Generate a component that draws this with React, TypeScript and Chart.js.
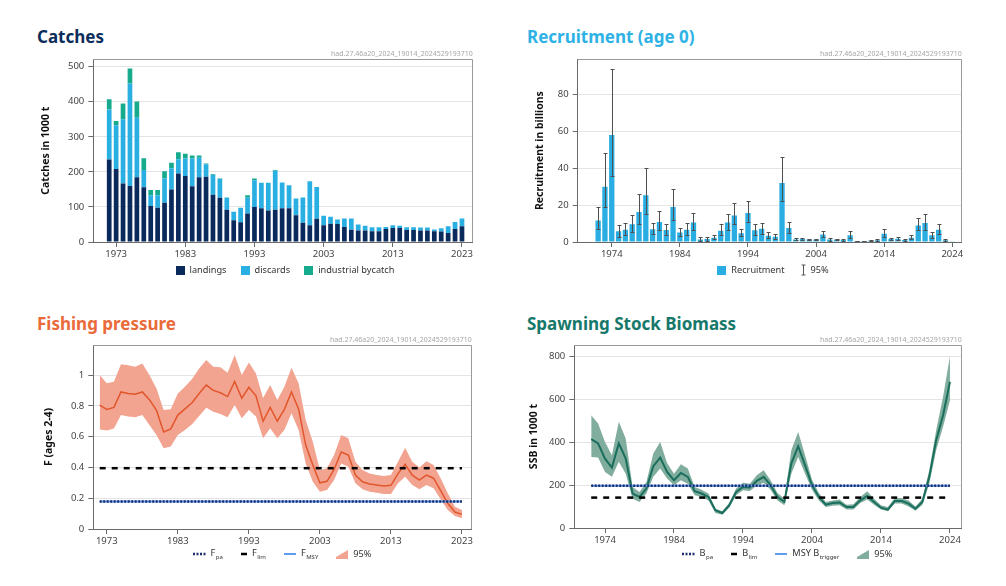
import React, { useEffect, useRef } from 'react';
import { Chart, registerables } from 'chart.js';
Chart.register(...registerables);

const FONT = "'Noto Sans', 'DejaVu Sans', sans-serif";
const WATERMARK = 'had.27.46a20_2024_19014_2024529193710';

// ---------- data ----------
const CATCH_YEARS = Array.from({ length: 52 }, (_, i) => 1972 + i);
const CATCH_TICKS = [1973, 1983, 1993, 2003, 2013, 2023];
const LANDINGS = [235, 208, 167, 160, 185, 156, 103, 98, 112, 150, 195, 188, 159, 185, 186, 135, 126, 92, 62, 56, 81, 100, 96, 90, 92, 96, 96, 76, 55, 48, 66, 48, 52, 51, 43, 35, 33, 33, 31, 31, 37, 40, 40, 34, 34, 33, 33, 31, 30, 26, 37, 45];
const DISCARDS = [143, 125, 183, 292, 169, 49, 30, 35, 69, 60, 41, 50, 79, 55, 36, 56, 54, 34, 24, 42, 45, 76, 73, 79, 111, 74, 66, 48, 72, 125, 91, 27, 20, 13, 24, 32, 17, 13, 11, 11, 6, 8, 6, 8, 8, 8, 8, 5, 9, 19, 20, 22];
const INDUSTRIAL = [29, 12, 45, 43, 47, 34, 15, 15, 21, 16, 20, 14, 9, 7, 2, 2, 1, 1, 0, 0, 7, 5, 0, 0, 2, 0, 0, 0, 0, 0, 0, 0, 0, 0, 0, 0, 0, 0, 0, 0, 0, 0, 0, 0, 0, 0, 0, 0, 0, 0, 0, 0];

const REC_YEARS = Array.from({ length: 53 }, (_, i) => 1972 + i);
const REC_TICKS = [1974, 1984, 1994, 2004, 2014, 2024];
const RECRUITMENT = [11.7, 30, 58, 5.8, 6.7, 9.6, 16.2, 25.3, 6.9, 10.8, 6.5, 19, 5.2, 6.7, 10.5, 1.4, 1.6, 2.3, 6.1, 10.5, 14.3, 4.7, 15.7, 6.3, 7.2, 3.4, 2.9, 32, 7.6, 1.4, 1.6, 1.3, 1.3, 4, 1.4, 1.3, 1.1, 3.6, 0.5, 0.5, 0.7, 0.9, 4.5, 1.6, 1.8, 1.1, 2.3, 9, 10.3, 3.6, 6.7, 0.9, 0.5];
const REC_HI = [19, 48, 94, 9.4, 10.5, 14.8, 25.8, 40, 10.5, 16.6, 9.9, 28.9, 7.6, 10.5, 15.9, 2.7, 2.7, 4, 9.6, 15.3, 21, 6.9, 22, 9.9, 10.5, 5.2, 4.3, 46, 10.8, 2, 2.2, 1.8, 1.6, 6.1, 2.2, 1.6, 1.5, 5.8, 0.8, 0.8, 1.1, 1.4, 6.9, 2.2, 2.7, 1.5, 3.6, 13, 15.3, 5.4, 9.9, 1.8, null];
const REC_LO = [7, 19, 36, 2.7, 3.6, 5.4, 9.6, 15.3, 4.2, 6.7, 4, 11.7, 3.2, 3.8, 6.3, 0.7, 0.8, 1.4, 3.6, 6.7, 9.6, 3.1, 10.8, 4, 4.5, 2, 1.6, 22, 5, 0.9, 1.1, 0.9, 0.9, 2.5, 0.8, 0.9, 0.7, 2.2, 0.3, 0.3, 0.4, 0.5, 2.7, 1.1, 1.1, 0.7, 1.4, 6.3, 6.7, 2.3, 4.2, 0.4, null];

const F_YEARS = Array.from({ length: 52 }, (_, i) => 1972 + i);
const F_TICKS = [1973, 1983, 1993, 2003, 2013, 2023];
const F_VALUES = [0.805, 0.777, 0.79, 0.89, 0.88, 0.875, 0.89, 0.84, 0.77, 0.63, 0.65, 0.74, 0.78, 0.82, 0.88, 0.935, 0.9, 0.885, 0.86, 0.957, 0.85, 0.92, 0.865, 0.7, 0.79, 0.7, 0.777, 0.89, 0.78, 0.545, 0.415, 0.3, 0.31, 0.387, 0.5, 0.48, 0.35, 0.307, 0.292, 0.286, 0.279, 0.284, 0.36, 0.42, 0.35, 0.318, 0.35, 0.33, 0.25, 0.167, 0.11, 0.095];
const F_HI = [1.0, 0.946, 0.957, 1.07, 1.063, 1.054, 1.075, 1.0, 0.913, 0.773, 0.777, 0.88, 0.924, 0.974, 1.043, 1.097, 1.054, 1.05, 1.015, 1.13, 1.0, 1.082, 1.01, 0.85, 0.935, 0.838, 0.924, 1.048, 0.946, 0.708, 0.567, 0.383, 0.394, 0.48, 0.61, 0.589, 0.437, 0.383, 0.361, 0.35, 0.344, 0.35, 0.437, 0.528, 0.437, 0.4, 0.44, 0.415, 0.33, 0.232, 0.145, 0.123];
const F_LO = [0.647, 0.639, 0.652, 0.74, 0.73, 0.725, 0.74, 0.675, 0.61, 0.524, 0.535, 0.61, 0.643, 0.68, 0.734, 0.788, 0.762, 0.747, 0.725, 0.805, 0.719, 0.773, 0.73, 0.589, 0.654, 0.589, 0.643, 0.751, 0.643, 0.426, 0.307, 0.242, 0.253, 0.318, 0.426, 0.405, 0.297, 0.258, 0.242, 0.236, 0.227, 0.227, 0.297, 0.34, 0.286, 0.258, 0.286, 0.264, 0.193, 0.123, 0.084, 0.07];
const F_LIM = 0.395;
const F_PA = 0.178;
const F_MSY = 0.178;

const SSB_YEARS = Array.from({ length: 53 }, (_, i) => 1972 + i);
const SSB_TICKS = [1974, 1984, 1994, 2004, 2014, 2024];
const SSB = [415, 395, 324, 282, 395, 324, 161, 145, 184, 289, 329, 262, 223, 257, 239, 172, 161, 145, 83, 70, 106, 168, 192, 189, 220, 239, 200, 145, 122, 301, 382, 293, 200, 145, 109, 117, 119, 98, 98, 129, 150, 122, 95, 86, 126, 126, 114, 90, 122, 239, 410, 527, 683];
const SSB_HI = [527, 488, 402, 340, 496, 418, 192, 168, 215, 348, 402, 304, 254, 298, 278, 192, 179, 161, 90, 78, 117, 184, 211, 207, 246, 270, 223, 164, 137, 363, 449, 340, 226, 164, 122, 129, 133, 109, 111, 145, 172, 137, 106, 98, 140, 140, 128, 101, 137, 270, 457, 613, 803];
const SSB_LO = [332, 329, 262, 239, 309, 254, 137, 122, 161, 239, 278, 231, 200, 223, 207, 153, 145, 129, 70, 62, 95, 153, 176, 173, 198, 211, 179, 129, 106, 254, 332, 254, 179, 129, 98, 104, 106, 87, 87, 117, 133, 109, 86, 78, 114, 114, 101, 81, 109, 207, 363, 473, 597];
const B_PA = 197;
const B_LIM = 142;
const B_TRIGGER = 197;

// ---------- colours ----------
const NAVY = '#0b2a5c';
const LIGHTBLUE = '#2aafe3';
const TEAL = '#17ab8e';
const REC_BLUE = '#29ade2';
const F_LINE = '#e2562c';
const F_BAND = '#f2a490';
const S_LINE = '#1a6e5d';
const S_BAND = '#80ad9d';
const REF_NAVY = '#1b2d6b';
const REF_BLUE = '#5f9cf0';
const AXIS = '#6a6a6a';
const GRID = '#e4e4e4';
const TICK_TXT = '#444';

const pts = (xs: number[], ys: (number | null)[]) => xs.map((x, i) => ({ x, y: ys[i] }));

const framePlugin = {
  id: 'frame',
  beforeDatasetsDraw(chart: any) {
    const { ctx, chartArea: a } = chart;
    ctx.save();
    ctx.strokeStyle = '#9a9a9a';
    ctx.lineWidth = 1;
    ctx.beginPath();
    ctx.moveTo(a.left, Math.round(a.top) + 0.5);
    ctx.lineTo(Math.round(a.right) - 0.5, Math.round(a.top) + 0.5);
    ctx.lineTo(Math.round(a.right) - 0.5, a.bottom);
    ctx.stroke();
    ctx.fillStyle = '#a6a6a6';
    ctx.font = `7px ${FONT}`;
    ctx.textAlign = 'right';
    ctx.textBaseline = 'bottom';
    ctx.fillText(WATERMARK, a.right, a.top - 2);
    ctx.restore();
  },
};

const errorBarPlugin = {
  id: 'errbars',
  afterDatasetsDraw(chart: any) {
    const { ctx } = chart;
    const meta = chart.getDatasetMeta(0);
    const y = chart.scales.y;
    ctx.save();
    ctx.strokeStyle = '#505050';
    ctx.lineWidth = 1;
    meta.data.forEach((el: any, i: number) => {
      const hi = REC_HI[i];
      const lo = REC_LO[i];
      if (hi == null || lo == null) return;
      const x = Math.round(el.x) + 0.5;
      const yh = Math.round(y.getPixelForValue(hi)) + 0.5;
      const yl = Math.round(y.getPixelForValue(lo)) + 0.5;
      ctx.beginPath();
      ctx.moveTo(x, yh);
      ctx.lineTo(x, yl);
      ctx.moveTo(x - 2, yh);
      ctx.lineTo(x + 2, yh);
      ctx.moveTo(x - 2, yl);
      ctx.lineTo(x + 2, yl);
      ctx.stroke();
    });
    ctx.restore();
  },
};

const tickFont = { family: FONT, size: 9.5 };
const titleFont = { family: FONT, size: 10.5, weight: 'bold' as const };

function xScale(min: number, max: number, ticks: number[], stacked = false) {
  return {
    type: 'linear',
    stacked,
    bounds: 'data',
    offset: false,
    min,
    max,
    afterBuildTicks: (s: any) => {
      s.ticks = ticks.map((v) => ({ value: v }));
    },
    afterFit: (s: any) => {
      s.height = 22;
    },
    ticks: { callback: (v: any) => String(v), font: tickFont, color: TICK_TXT, maxRotation: 0, autoSkip: false, padding: 2 },
    grid: { drawOnChartArea: false, offset: false, tickLength: 5, tickColor: AXIS },
    border: { color: AXIS },
  };
}

function yScale(max: number, step: number, title: string, width: number, stacked = false) {
  return {
    type: 'linear',
    stacked,
    bounds: 'data',
    min: 0,
    max,
    afterBuildTicks: (s: any) => {
      s.ticks = s.ticks.filter((t: any) => Math.abs(t.value / step - Math.round(t.value / step)) < 1e-6);
    },
    afterFit: (s: any) => {
      s.width = width;
    },
    ticks: {
      stepSize: step,
      includeBounds: false,
      font: tickFont,
      color: TICK_TXT,
      padding: 4,
      callback: (v: any) => String(Math.round(v * 100) / 100),
    },
    grid: { color: GRID, tickLength: 5, tickColor: AXIS },
    border: { color: AXIS },
    title: { display: true, text: title, font: titleFont, color: '#111', padding: { top: 0, bottom: 4 } },
  };
}

const baseOptions = (padLeft: number, padTop: number, padRight: number) => ({
  animation: false,
  responsive: false,
  layout: { padding: { left: padLeft, top: padTop, right: padRight, bottom: 0 } },
  plugins: { legend: { display: false }, tooltip: { enabled: false } },
});

function catchesConfig(): any {
  return {
    type: 'bar',
    data: {
      datasets: [
        { label: 'landings', data: pts(CATCH_YEARS, LANDINGS), backgroundColor: NAVY },
        { label: 'discards', data: pts(CATCH_YEARS, DISCARDS), backgroundColor: LIGHTBLUE },
        { label: 'industrial bycatch', data: pts(CATCH_YEARS, INDUSTRIAL), backgroundColor: TEAL },
      ],
    },
    options: {
      ...baseOptions(10, 11.3, 7.3),
      datasets: { bar: { barPercentage: 0.68, categoryPercentage: 1 } },
      scales: {
        x: xScale(1969.7, 2024.55, CATCH_TICKS, true),
        y: yScale(521, 100, 'Catches in 1000 t', 53.3, true),
      },
    },
    plugins: [framePlugin],
  };
}

function recruitConfig(): any {
  return {
    type: 'bar',
    data: {
      datasets: [
        {
          label: 'Recruitment',
          data: pts(REC_YEARS, RECRUITMENT),
          backgroundColor: REC_YEARS.map((y) => (y === 2024 ? '#a9ddf3' : REC_BLUE)),
        },
      ],
    },
    options: {
      ...baseOptions(14, 11.3, 8.3),
      datasets: { bar: { barPercentage: 0.78, categoryPercentage: 1 } },
      scales: {
        x: xScale(1969.0, 2025.38, REC_TICKS),
        y: yScale(99, 20, 'Recruitment in billions', 43.7),
      },
    },
    plugins: [framePlugin, errorBarPlugin],
  };
}

function refLine(xs: number[], v: number, color: string, width: number, dash: number[], order: number) {
  return {
    data: [{ x: xs[0], y: v }, { x: xs[xs.length - 1], y: v }],
    borderColor: color,
    borderWidth: width,
    borderDash: dash,
    pointRadius: 0,
    fill: false,
    order,
  };
}

function fishingConfig(): any {
  return {
    type: 'line',
    data: {
      datasets: [
        { data: pts(F_YEARS, F_HI), borderWidth: 0, pointRadius: 0, fill: '+1', backgroundColor: F_BAND, order: 10 },
        { data: pts(F_YEARS, F_LO), borderWidth: 0, pointRadius: 0, fill: false, order: 11 },
        { data: pts(F_YEARS, F_VALUES), borderColor: F_LINE, borderWidth: 1.5, pointRadius: 0, fill: false, order: 5 },
        refLine(F_YEARS, F_MSY, REF_BLUE, 2, [], 3),
        refLine(F_YEARS, F_PA, REF_NAVY, 2.5, [2, 1.5], 1),
        refLine(F_YEARS, F_LIM, '#000', 2.5, [6, 6], 1),
      ],
    },
    options: {
      ...baseOptions(12.7, 12, 8.3),
      scales: {
        x: xScale(1971.1, 2024.37, F_TICKS),
        y: yScale(1.195, 0.2, 'F (ages 2-4)', 50.6),
      },
    },
    plugins: [framePlugin],
  };
}

function ssbConfig(): any {
  return {
    type: 'line',
    data: {
      datasets: [
        { data: pts(SSB_YEARS, SSB_HI), borderWidth: 0, pointRadius: 0, fill: '+1', backgroundColor: S_BAND, order: 10 },
        { data: pts(SSB_YEARS, SSB_LO), borderWidth: 0, pointRadius: 0, fill: false, order: 11 },
        { data: pts(SSB_YEARS, SSB), borderColor: S_LINE, borderWidth: 2, pointRadius: 0, fill: false, order: 5 },
        refLine(SSB_YEARS, B_TRIGGER, REF_BLUE, 2, [], 3),
        refLine(SSB_YEARS, B_PA, REF_NAVY, 2.5, [2, 1.5], 1),
        refLine(SSB_YEARS, B_LIM, '#000', 2.5, [6, 6], 1),
      ],
    },
    options: {
      ...baseOptions(8, 12, 8.3),
      scales: {
        x: xScale(1969.55, 2025.7, SSB_TICKS),
        y: yScale(855, 200, 'SSB in 1000 t', 46.3),
      },
    },
    plugins: [framePlugin],
  };
}

function ChartPanel({ left, top, width, height, make }: { left: number; top: number; width: number; height: number; make: () => any }) {
  const ref = useRef<HTMLCanvasElement>(null);
  useEffect(() => {
    const chart = new Chart(ref.current as HTMLCanvasElement, make());
    return () => chart.destroy();
  }, []);
  return <canvas ref={ref} width={width} height={height} style={{ position: 'absolute', left, top, width, height }} />;
}

const Sq = ({ c }: { c: string }) => <span style={{ display: 'inline-block', width: 9, height: 9, background: c, marginRight: 5 }} />;
const Lbl = ({ main, sub }: { main: string; sub: string }) => (
  <span style={{ display: 'inline-block', whiteSpace: 'nowrap' }}>
    {main}
    <span style={{ fontSize: 6, position: 'relative', top: 3, marginLeft: 0.5 }}>{sub}</span>
  </span>
);
const Glyph = ({ children, w }: { children: any; w: number }) => (
  <svg width={w} height={12} style={{ marginRight: 5, overflow: 'visible' }}>
    {children}
  </svg>
);

function Legend({ center, top, items, gap }: { center: number; top: number; items: any[]; gap: number }) {
  return (
    <div
      style={{
        position: 'absolute',
        left: center - 250,
        width: 500,
        top,
        display: 'flex',
        justifyContent: 'center',
        alignItems: 'center',
        gap,
        fontFamily: FONT,
        fontSize: 9.2,
        color: '#333',
        lineHeight: '14px',
      }}
    >
      {items.map((it, i) => (
        <span key={i} style={{ display: 'inline-flex', alignItems: 'center', whiteSpace: 'nowrap' }}>
          {it}
        </span>
      ))}
    </div>
  );
}

const Title = ({ left, top, color, text }: { left: number; top: number; color: string; text: string }) => (
  <div style={{ position: 'absolute', left, top, color, fontFamily: FONT, fontWeight: 700, fontSize: 17, lineHeight: '17px', whiteSpace: 'nowrap' }}>{text}</div>
);

export default function App() {
  const dotted = (
    <Glyph w={13}>
      <line x1={0} y1={6} x2={13} y2={6} stroke={REF_NAVY} strokeWidth={2.5} strokeDasharray="2 1.5" />
    </Glyph>
  );
  const dash = (
    <Glyph w={6}>
      <line x1={0} y1={6} x2={6} y2={6} stroke="#000" strokeWidth={2.5} />
    </Glyph>
  );
  const blue = (
    <Glyph w={12}>
      <line x1={0} y1={6} x2={12} y2={6} stroke={REF_BLUE} strokeWidth={2} />
    </Glyph>
  );
  const band = (c: string) => (
    <Glyph w={12}>
      <polygon points="0,9 12,2 12,11 0,11" fill={c} />
    </Glyph>
  );
  const errGlyph = (
    <Glyph w={5}>
      <line x1={2.5} y1={1} x2={2.5} y2={11} stroke="#555" strokeWidth={1} />
      <line x1={0.5} y1={1} x2={4.5} y2={1} stroke="#555" strokeWidth={1} />
      <line x1={0.5} y1={11} x2={4.5} y2={11} stroke="#555" strokeWidth={1} />
    </Glyph>
  );
  return (
    <div style={{ position: 'absolute', left: 0, top: 0, width: 1006, height: 586, background: '#fff', overflow: 'hidden' }}>
      <Title left={37} top={28} color="#0b2d5b" text="Catches" />
      <Title left={527} top={28} color="#2eb2e6" text="Recruitment (age 0)" />
      <Title left={37} top={315} color="#ea6a3a" text="Fishing pressure" />
      <Title left={527} top={315} color="#16786a" text="Spawning Stock Biomass" />

      <ChartPanel left={30} top={48} width={450} height={216} make={catchesConfig} />
      <ChartPanel left={520} top={48} width={450} height={216} make={recruitConfig} />
      <ChartPanel left={30} top={333} width={450} height={218} make={fishingConfig} />
      <ChartPanel left={520} top={333} width={450} height={217} make={ssbConfig} />

      <Legend
        center={285}
        gap={14}
        top={263}
        items={[
          <><Sq c={NAVY} />landings</>,
          <><Sq c={LIGHTBLUE} />discards</>,
          <><Sq c={TEAL} />industrial bycatch</>,
        ]}
      />
      <Legend
        center={773}
        gap={16}
        top={263}
        items={[
          <><Sq c={REC_BLUE} />Recruitment</>,
          <>{errGlyph}95%</>,
        ]}
      />
      <Legend
        center={282}
        gap={18}
        top={546}
        items={[
          <>{dotted}<Lbl main="F" sub="pa" /></>,
          <>{dash}<Lbl main="F" sub="lim" /></>,
          <>{blue}<Lbl main="F" sub="MSY" /></>,
          <>{band(F_BAND)}95%</>,
        ]}
      />
      <Legend
        center={787}
        gap={18}
        top={546}
        items={[
          <>{dotted}<Lbl main="B" sub="pa" /></>,
          <>{dash}<Lbl main="B" sub="lim" /></>,
          <>{blue}<Lbl main="MSY B" sub="trigger" /></>,
          <>{band(S_BAND)}95%</>,
        ]}
      />
    </div>
  );
}
